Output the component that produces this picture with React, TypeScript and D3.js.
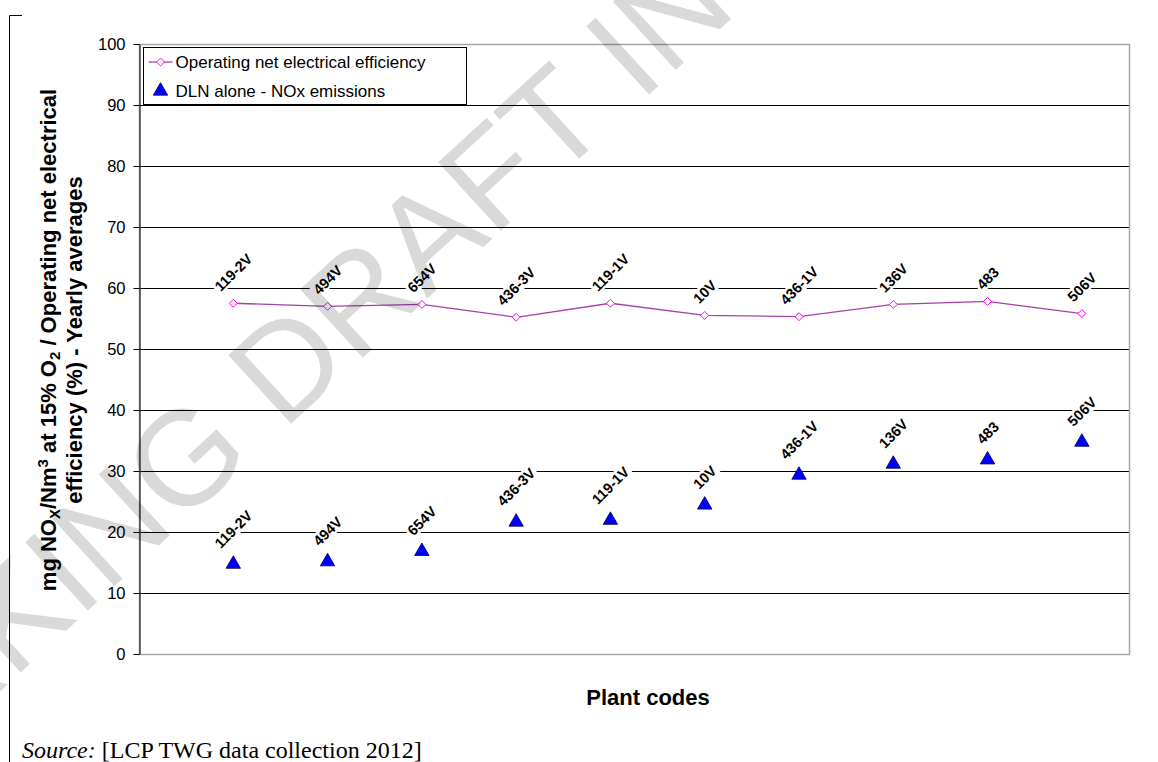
import React, { useRef, useEffect } from 'react';
import * as d3 from 'd3';

const plants = ['119-2V', '494V', '654V', '436-3V', '119-1V', '10V', '436-1V', '136V', '483', '506V'];
const efficiency = [57.5, 57.0, 57.3, 55.2, 57.5, 55.5, 55.3, 57.3, 57.8, 55.8];
const noxEmissions = [14.9, 15.3, 17.0, 21.8, 22.1, 24.6, 29.5, 31.3, 32.0, 34.9];
const yTicks = [0, 10, 20, 30, 40, 50, 60, 70, 80, 90, 100];
const seriesNames = ['Operating net electrical efficiency', 'DLN alone - NOx emissions'];

const W = 1158;
const H = 762;
const SANS = '"Liberation Sans", Arial, sans-serif';

const App: React.FC = () => {
  const svgRef = useRef<SVGSVGElement>(null);

  useEffect(() => {
    document.body.style.margin = '0';
    if (!svgRef.current) return;
    const svg = d3.select(svgRef.current);
    svg.selectAll('*').remove();

    const plot = { left: 139, right: 1129, top: 44, bottom: 654 };

    const x = d3.scaleLinear().domain([0, plants.length + 0.5]).range([plot.left, plot.right]);
    const y = d3.scaleLinear().domain([0, 100]).range([plot.bottom, plot.top]);

    // page frame bits
    svg.append('path')
      .attr('d', `M22,15.5H9.5V${H}`)
      .attr('fill', 'none').attr('stroke', '#000').attr('stroke-width', 1);

    // gridlines
    svg.append('g')
      .selectAll('line')
      .data(yTicks.filter(t => t > 0 && t < 100))
      .join('line')
        .attr('x1', plot.left).attr('x2', plot.right)
        .attr('y1', d => Math.round(y(d)) + 0.5).attr('y2', d => Math.round(y(d)) + 0.5)
        .attr('stroke', '#000').attr('stroke-width', 1);

    // plot border
    svg.append('rect')
      .attr('x', plot.left + 0.5).attr('y', plot.top + 0.5)
      .attr('width', plot.right - plot.left).attr('height', plot.bottom - plot.top)
      .attr('fill', 'none').attr('stroke', '#a6a6a6').attr('stroke-width', 1.5);

    // y axis
    const yAxis = svg.append('g')
      .attr('transform', `translate(${plot.left + 0.5},0)`)
      .call(d3.axisLeft(y).tickValues(yTicks).tickSize(6).tickSizeOuter(0).tickPadding(8));
    yAxis.select('.domain').attr('stroke', '#000');
    yAxis.selectAll('line').attr('stroke', '#000');
    yAxis.selectAll('text')
      .attr('font-family', SANS).attr('font-size', 16.5).attr('fill', '#000');

    // efficiency line
    const line = d3.line<number>()
      .x((_, i) => x(i + 1))
      .y(d => y(d));
    svg.append('path')
      .datum(efficiency)
      .attr('d', line)
      .attr('fill', 'none')
      .attr('stroke', '#a640a6')
      .attr('stroke-width', 1.3);

    const diamond = d3.symbol().type(d3.symbolDiamond2).size(40);
    svg.append('g')
      .selectAll('path')
      .data(efficiency)
      .join('path')
        .attr('d', diamond)
        .attr('transform', (d, i) => `translate(${x(i + 1)},${y(d)})`)
        .attr('fill', '#fff')
        .attr('stroke', '#ff00ff')
        .attr('stroke-width', 1);

    const triangle = d3.symbol().type(d3.symbolTriangle).size(90);
    svg.append('g')
      .selectAll('path')
      .data(noxEmissions)
      .join('path')
        .attr('d', triangle)
        .attr('transform', (d, i) => `translate(${x(i + 1)},${y(d) + 1})`)
        .attr('fill', '#0000ff')
        .attr('stroke', '#000040')
        .attr('stroke-width', 0.8);

    // data labels, rotated -45 with white knock-out
    const drawLabels = (values: number[], gap: number) => {
      const g = svg.append('g');
      values.forEach((v, i) => {
        const lg = g.append('g');
        const rect = lg.append('rect').attr('fill', '#fff');
        const txt = lg.append('text')
          .text(plants[i])
          .attr('font-family', SANS)
          .attr('font-size', 14.5)
          .attr('font-weight', 'bold')
          .attr('text-anchor', 'middle')
          .attr('dy', '0.36em')
          .attr('fill', '#000');
        const w = (txt.node() as SVGTextElement).getComputedTextLength();
        const h = 13;
        rect.attr('x', -w / 2 - 2).attr('y', -h / 2 - 1).attr('width', w + 4).attr('height', h + 2);
        const off = gap + (w + h) / (2 * Math.SQRT2);
        lg.attr('transform', `translate(${x(i + 1)},${y(v) - off}) rotate(-45)`);
      });
    };
    drawLabels(efficiency, 10);
    drawLabels(noxEmissions, 13);

    // legend
    const lg = svg.append('g').attr('transform', 'translate(143.5,47.5)');
    lg.append('rect').attr('width', 323).attr('height', 57)
      .attr('fill', '#fff').attr('stroke', '#000').attr('stroke-width', 1);
    lg.append('line').attr('x1', 5).attr('x2', 29).attr('y1', 14.5).attr('y2', 14.5)
      .attr('stroke', '#a640a6').attr('stroke-width', 1.3);
    lg.append('path').attr('d', diamond).attr('transform', 'translate(17,14.5)')
      .attr('fill', '#fff').attr('stroke', '#ff00ff');
    lg.append('path').attr('d', triangle).attr('transform', 'translate(17,43.5)')
      .attr('fill', '#0000ff').attr('stroke', '#000040').attr('stroke-width', 0.8);
    lg.selectAll('text.leg')
      .data(seriesNames)
      .join('text')
        .attr('class', 'leg')
        .attr('x', 32)
        .attr('y', (_, i) => 20.5 + i * 28.5)
        .attr('font-family', SANS)
        .attr('font-size', 17)
        .attr('fill', '#000')
        .text(d => d);

    // y axis title (two lines)
    const yt = svg.append('text')
      .attr('transform', 'translate(0,340) rotate(-90)')
      .attr('font-family', SANS)
      .attr('font-size', 22)
      .attr('font-weight', 'bold')
      .attr('text-anchor', 'middle')
      .attr('fill', '#000');
    const l1 = yt.append('tspan').attr('x', 0).attr('y', 56);
    l1.append('tspan').text('mg NO');
    l1.append('tspan').text('X').attr('font-size', 15).attr('dy', 4);
    l1.append('tspan').text('/Nm').attr('dy', -4);
    l1.append('tspan').text('3').attr('font-size', 15).attr('dy', -8);
    l1.append('tspan').text(' at 15% O').attr('dy', 8);
    l1.append('tspan').text('2').attr('font-size', 15).attr('dy', 4);
    l1.append('tspan').text(' / Operating net electrical').attr('dy', -4);
    yt.append('tspan').attr('x', 0).attr('y', 82).text('efficiency (%) - Yearly averages');

    // x axis title
    svg.append('text')
      .attr('x', 648).attr('y', 705)
      .attr('text-anchor', 'middle')
      .attr('font-family', SANS)
      .attr('font-size', 22)
      .attr('font-weight', 'bold')
      .attr('fill', '#000')
      .text('Plant codes');

    // source note
    const src = svg.append('text')
      .attr('x', 22).attr('y', 758)
      .attr('font-family', '"Liberation Serif", "Times New Roman", serif')
      .attr('font-size', 24)
      .attr('fill', '#000');
    src.append('tspan').attr('font-style', 'italic').text('Source:');
    src.append('tspan').text(' [LCP TWG data collection 2012]');

    // watermark on top
    svg.append('text')
      .attr('transform', 'translate(517,150) rotate(-42.6)')
      .attr('text-anchor', 'middle')
      .attr('dy', '0.36em')
      .attr('font-family', SANS)
      .attr('font-size', 135)
      .attr('fill', '#000')
      .attr('fill-opacity', 0.15)
      .text('WORKING DRAFT IN PROGRESS');
  }, []);

  return <svg ref={svgRef} width={W} height={H} style={{ display: 'block', background: '#fff' }} />;
};

export default App;
